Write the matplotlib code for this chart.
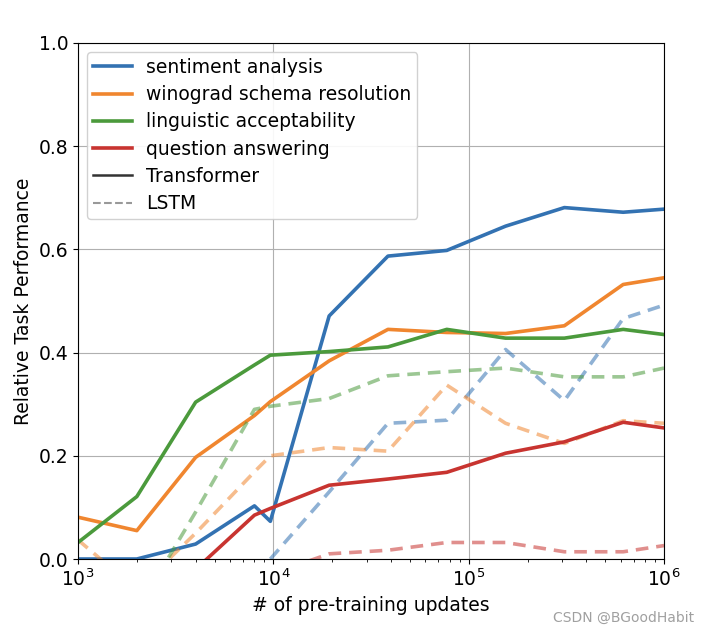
import numpy as np
import matplotlib
matplotlib.use("Agg")
import matplotlib.pyplot as plt
from matplotlib.lines import Line2D

# checkpoints (pre-training updates)
steps = [1000, 2000, 4000, 8000, 9650, 19300, 38600, 77200, 154400, 308800, 617600, 1000000]

nan = np.nan
# Transformer
sentiment_tr = [0.0, 0.0, 0.029, 0.103, 0.073, 0.471, 0.587, 0.598, 0.645, 0.681, 0.672, 0.678]
winograd_tr = [0.081, 0.055, 0.197, 0.278, 0.305, 0.384, 0.445, 0.439, 0.437, 0.452, 0.532, 0.545]
linguistic_tr = [0.032, 0.121, 0.304, 0.376, 0.395, 0.402, 0.411, 0.445, 0.428, 0.428, 0.445, 0.435]
qa_tr = [nan, nan, -0.02, 0.085, 0.098, 0.143, 0.155, 0.168, 0.205, 0.227, 0.265, 0.254]
# LSTM
sentiment_lstm = [nan, nan, nan, nan, 0.0, 0.13, 0.263, 0.269, 0.406, 0.307, 0.466, 0.492]
winograd_lstm = [0.037, -0.06, 0.05, 0.169, 0.2, 0.216, 0.209, 0.337, 0.263, 0.224, 0.268, 0.263]
linguistic_lstm = [nan, -0.1, 0.091, 0.29, 0.296, 0.311, 0.355, 0.363, 0.37, 0.353, 0.353, 0.37]
qa_lstm = [nan, nan, nan, nan, -0.03, 0.01, 0.017, 0.032, 0.032, 0.014, 0.014, 0.026]

tasks = ["sentiment analysis", "winograd schema resolution",
         "linguistic acceptability", "question answering"]
colors = ["#3372b2", "#f0862f", "#4b9a3c", "#c83430"]
tr_series = [sentiment_tr, winograd_tr, linguistic_tr, qa_tr]
lstm_series = [sentiment_lstm, winograd_lstm, linguistic_lstm, qa_lstm]

fs = 13.5

fig = plt.figure(figsize=(7.1, 6.32), dpi=100)
ax = fig.add_axes([0.1099, 0.1155, 0.8254, 0.8165])

for name, c, tr, ls in zip(tasks, colors, tr_series, lstm_series):
    ax.plot(steps, tr, color=c, lw=2.6, label=name)
    ax.plot(steps, ls, color=c, lw=2.6, ls=(0, (3.5, 2.2)), alpha=0.55)

ax.set_xscale("log")
ax.set_xlim(1e3, 1e6)
ax.set_ylim(0, 1.0)
ax.set_yticks([0.0, 0.2, 0.4, 0.6, 0.8, 1.0])
ax.grid(True, which="major", color="#b0b0b0", lw=0.8)
ax.tick_params(labelsize=fs)
ax.set_xlabel("# of pre-training updates", fontsize=fs)
ax.set_ylabel("Relative Task Performance", fontsize=fs)

handles = [Line2D([], [], color=c, lw=2.6) for c in colors]
handles.append(Line2D([], [], color="#333333", lw=1.8))
handles.append(Line2D([], [], color="#999999", lw=1.5, ls="--"))
labels = tasks + ["Transformer", "LSTM"]
ax.legend(handles, labels, loc="upper left", fontsize=fs, framealpha=0.9,
          handlelength=2.1, handletextpad=0.75, borderaxespad=0.5,
          borderpad=0.3, labelspacing=0.44)

fig.text(0.977, 0.0226, "CSDN @BGoodHabit", ha="right", va="center",
         fontsize=10, color="#a0a0a0")

fig.savefig("out.png", dpi=100)
